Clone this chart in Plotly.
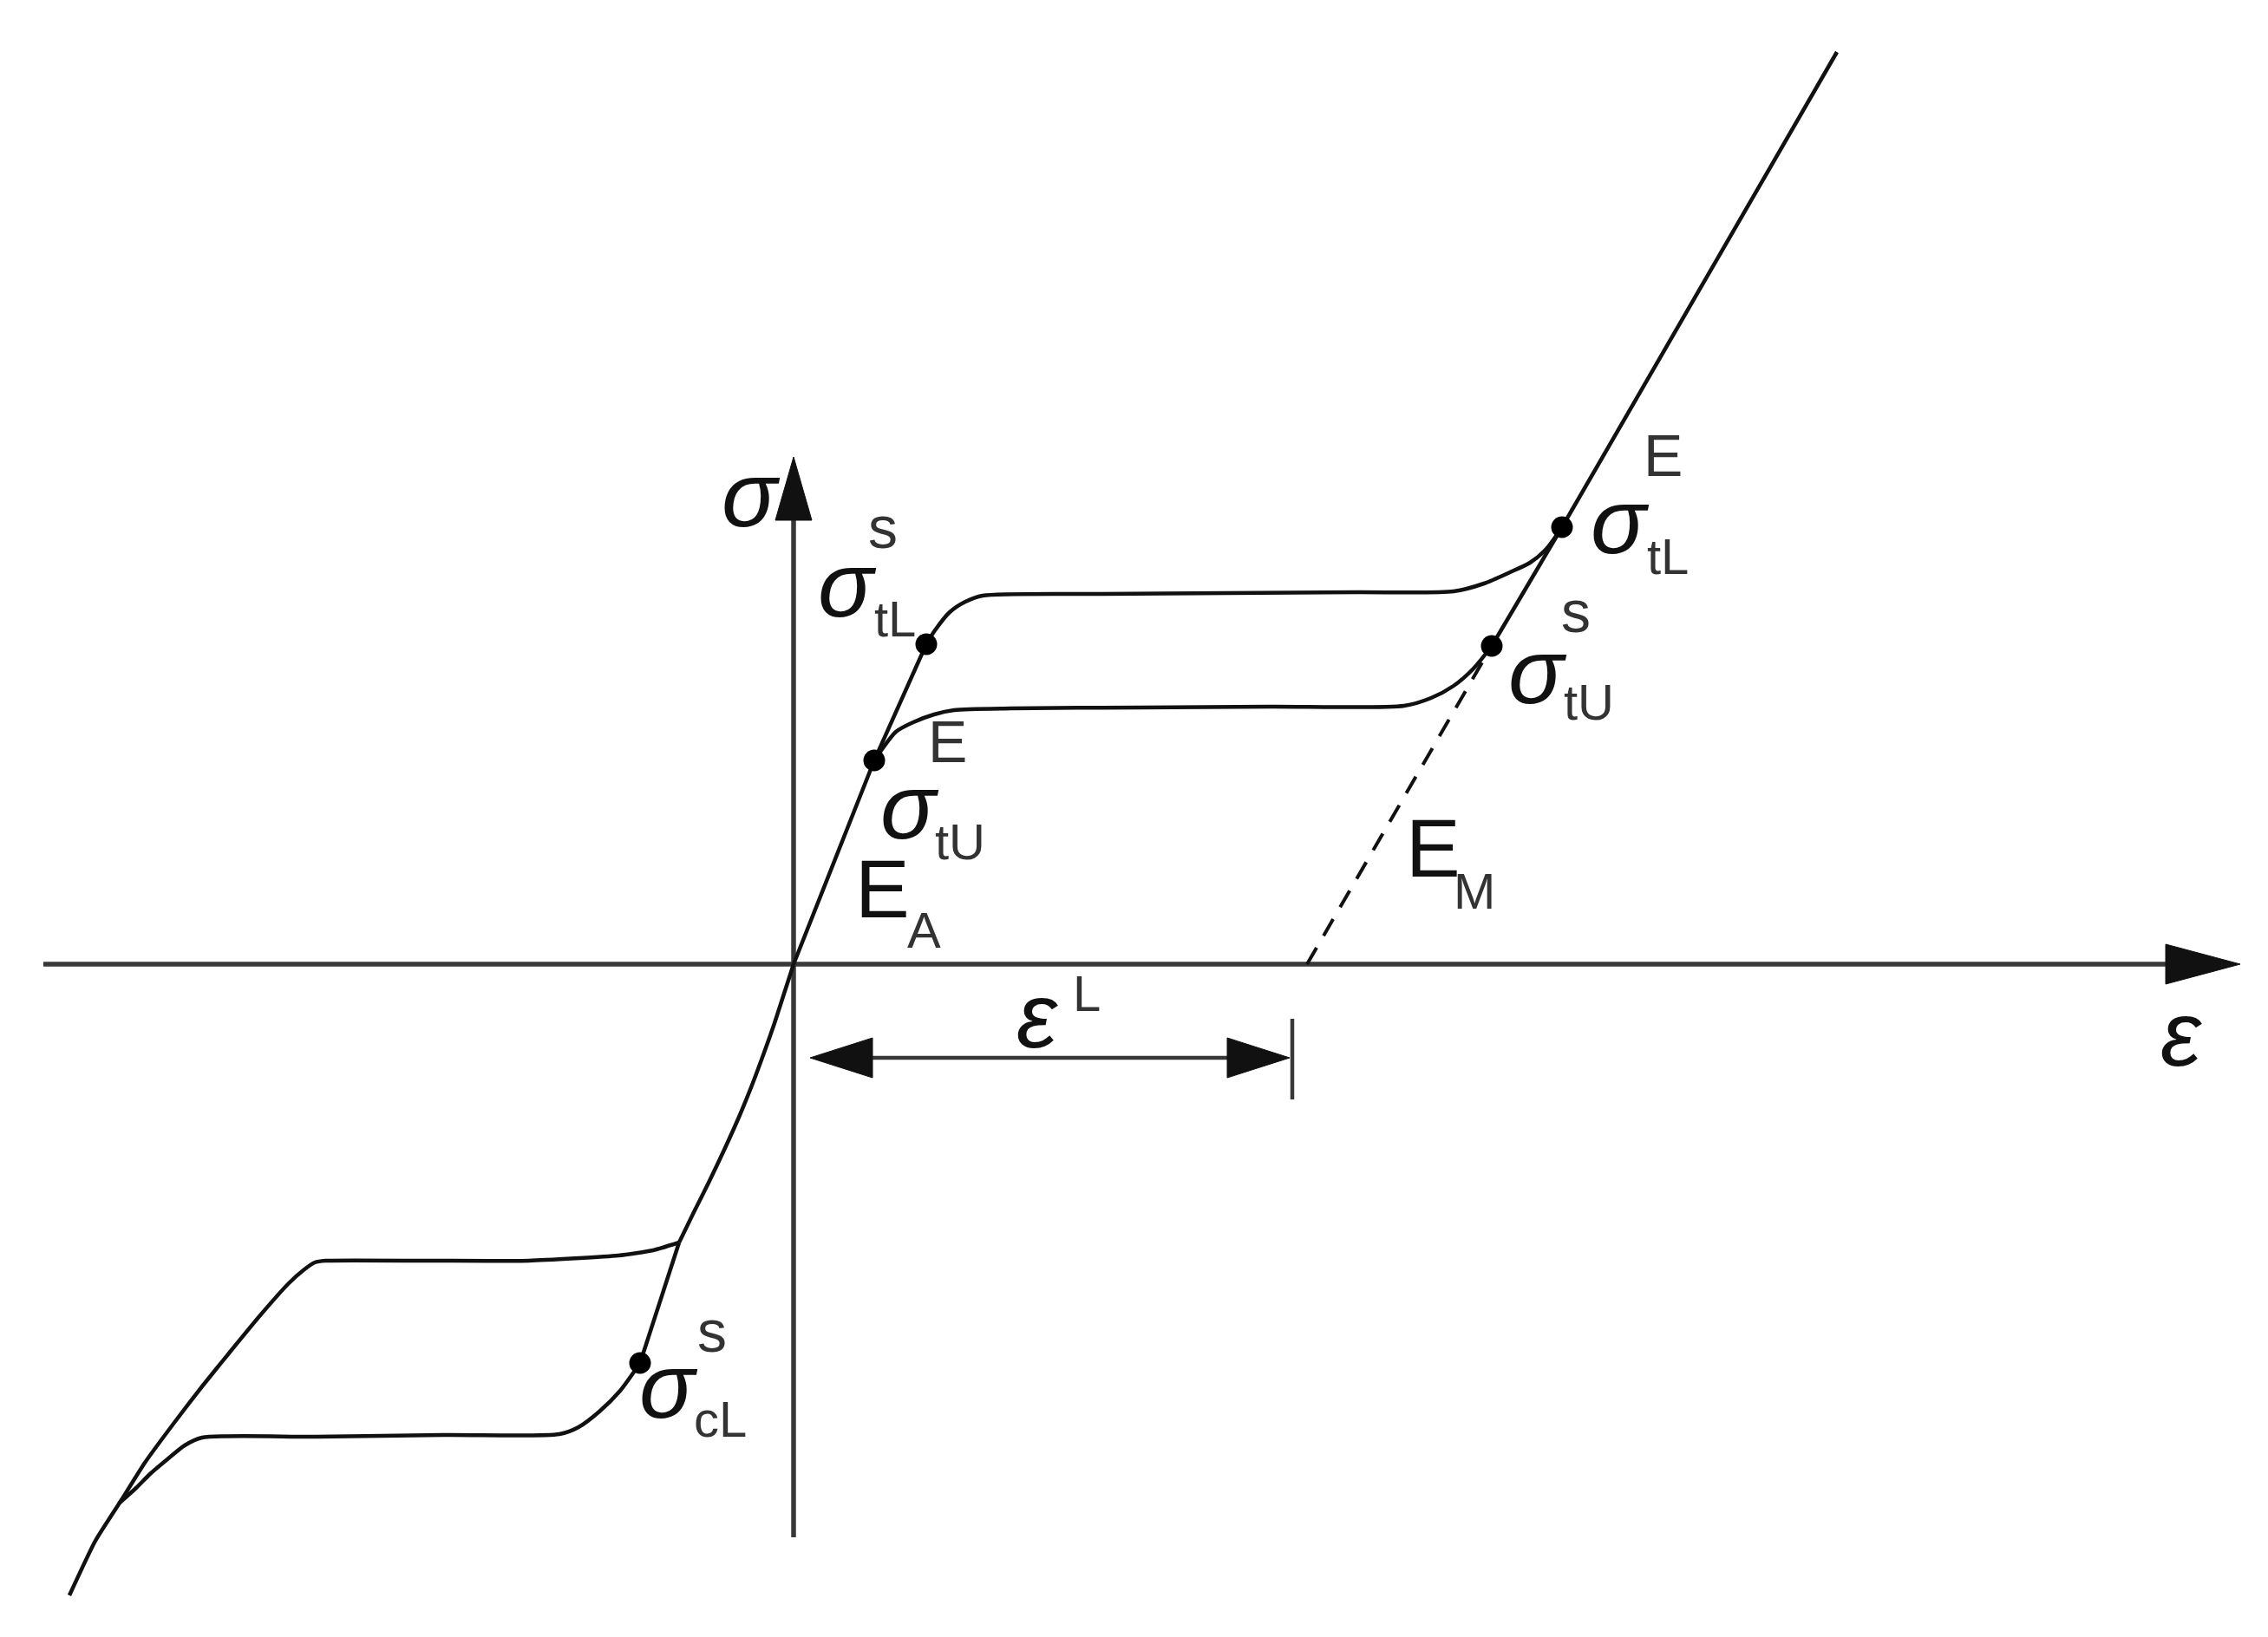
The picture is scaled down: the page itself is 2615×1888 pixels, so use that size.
import plotly.graph_objects as go

# ---------------- data (schematic strain ε / stress σ units) ----------------
# austenite elastic line E_A (tension side)
ea_eps = [0.0, 0.93, 1.53]
ea_sig = [0.0, 2.35, 3.69]

# forward transformation plateau in tension (upper)
fwd_t_eps = [1.53, 1.63, 1.80, 1.98, 2.18, 3.5, 5.0, 6.5, 7.61, 7.96, 8.26, 8.49, 8.68, 8.86]
fwd_t_sig = [3.69, 3.85, 4.06, 4.18, 4.25, 4.27, 4.28, 4.29, 4.30, 4.39, 4.52, 4.63, 4.79, 5.04]

# martensite elastic line (tension)
mart_t_eps = [8.05, 8.86, 12.03]
mart_t_sig = [3.67, 5.04, 10.52]

# reverse transformation plateau in tension (lower)
rev_t_eps = [8.05, 7.84, 7.61, 7.35, 7.04, 5.5, 4.0, 2.5, 1.85, 1.62, 1.38, 1.18, 0.93]
rev_t_sig = [3.67, 3.41, 3.21, 3.07, 2.98, 2.97, 2.96, 2.95, 2.93, 2.88, 2.79, 2.68, 2.35]

# E_M unloading line (dashed)
em_eps = [5.92, 8.05]
em_sig = [0.0, 3.67]

# compression: austenite branch
comp_el_eps = [0.0, -0.11, -0.22, -0.34, -0.47, -0.62, -0.79, -0.97, -1.15, -1.32]
comp_el_sig = [0.0, -0.34, -0.68, -1.02, -1.37, -1.74, -2.12, -2.50, -2.86, -3.21]
comp_el2_eps = [-1.32, -1.77]
comp_el2_sig = [-3.21, -4.60]

# compression forward plateau (lower)
fwd_c_eps = [-1.77, -2.00, -2.24, -2.48, -2.70, -4.0, -5.5, -6.82, -7.02, -7.22, -7.42, -7.58, -7.78]
fwd_c_sig = [-4.60, -4.92, -5.16, -5.34, -5.42, -5.43, -5.45, -5.46, -5.55, -5.71, -5.88, -6.04, -6.22]

# compression reverse plateau (upper) and martensite branch
rev_c_eps = [-1.32, -1.62, -2.02, -3.05, -4.2, -5.40, -5.52, -5.64, -5.82, -6.15, -6.48, -6.82, -7.15, -7.48, -7.75, -8.05, -8.35]
rev_c_sig = [-3.21, -3.30, -3.36, -3.42, -3.42, -3.42, -3.44, -3.52, -3.68, -4.05, -4.45, -4.87, -5.30, -5.75, -6.18, -6.65, -7.28]

# characteristic points (dots)
dot_eps = [1.53, 0.93, 8.86, 8.05, -1.77]
dot_sig = [3.69, 2.35, 5.04, 3.67, -4.60]

# axes extents
x_axis_min, x_axis_max = -8.65, 16.68
y_axis_min, y_axis_max = -6.61, 5.85

# eps^L dimension
epsL_start, epsL_end, epsL_level = 0.19, 5.72, -1.08

# labels: text, eps, sig, kind
lbl_text = ["σ", "σ", "s", "tL", "E", "σ", "tU", "E", "A",
            "E", "σ", "tL", "s", "σ", "tU", "E", "M",
            "ε", "L", "ε", "s", "σ", "cL"]
lbl_eps = [-0.49, 0.62, 1.03, 1.17, 1.77, 1.34, 1.92, 1.02, 1.50,
           10.02, 9.53, 10.08, 9.02, 8.58, 9.17, 7.37, 7.85,
           2.81, 3.38, 16.00, -0.94, -1.44, -0.85]
lbl_sig = [5.42, 4.38, 5.04, 3.99, 2.57, 1.82, 1.42, 0.87, 0.40,
           5.87, 5.11, 4.71, 4.07, 3.38, 3.03, 1.34, 0.85,
           -0.59, -0.33, -0.80, -4.23, -4.86, -5.24]
lbl_kind = ["g", "g", "sup", "sub", "sup", "g", "sub", "big", "sub",
            "sup", "g", "sub", "sup", "g", "sub", "big", "sub",
            "g", "sub", "g", "sup", "g", "sub"]

# ---------------- styling ----------------
CURVE = "#111111"
AXIS = "#383838"
LW = 4.5
AW = 5.5

fig = go.Figure()

def add_line(xs, ys, shape="linear", dash="solid", color=CURVE, width=LW, smoothing=0.7):
    line = dict(color=color, width=width, shape=shape, dash=dash)
    if shape == "spline":
        line["smoothing"] = smoothing
    fig.add_trace(go.Scatter(x=xs, y=ys, mode="lines", line=line, hoverinfo="skip"))

def add_tri(xs, ys, color):
    fig.add_trace(go.Scatter(x=xs, y=ys, mode="lines", fill="toself", fillcolor=color,
                             line=dict(color=color, width=1), hoverinfo="skip"))

# axes
ah_len, ah_half = 0.86, 0.23      # x-axis arrowhead
av_len, av_half = 0.73, 0.21      # y-axis arrowhead
add_line([x_axis_min, x_axis_max - ah_len], [0, 0], color=AXIS, width=AW)
add_tri([x_axis_max - ah_len, x_axis_max, x_axis_max - ah_len, x_axis_max - ah_len],
        [ah_half, 0, -ah_half, ah_half], "#111111")
add_line([0, 0], [y_axis_min, y_axis_max - av_len], color=AXIS, width=AW)
add_tri([-av_half, 0, av_half, -av_half],
        [y_axis_max - av_len, y_axis_max, y_axis_max - av_len, y_axis_max - av_len], "#111111")

# curves
add_line(ea_eps, ea_sig)
add_line(fwd_t_eps, fwd_t_sig, shape="spline")
add_line(mart_t_eps, mart_t_sig)
add_line(rev_t_eps, rev_t_sig, shape="spline")
add_line(em_eps, em_sig, dash="22px,16px", width=4)
add_line(comp_el_eps, comp_el_sig, shape="spline")
add_line(comp_el2_eps, comp_el2_sig)
add_line(fwd_c_eps, fwd_c_sig, shape="spline")
add_line(rev_c_eps, rev_c_sig, shape="spline", smoothing=0.5)

# eps^L dimension arrow
d_len, d_half = 0.72, 0.23
add_line([epsL_start + d_len, epsL_end - d_len], [epsL_level, epsL_level], color=AXIS, width=4.5)
add_tri([epsL_start, epsL_start + d_len, epsL_start + d_len, epsL_start],
        [epsL_level, epsL_level + d_half, epsL_level - d_half, epsL_level], "#111111")
add_tri([epsL_end, epsL_end - d_len, epsL_end - d_len, epsL_end],
        [epsL_level, epsL_level + d_half, epsL_level - d_half, epsL_level], "#111111")
add_line([epsL_end + 0.03, epsL_end + 0.03], [epsL_level + 0.45, epsL_level - 0.48], color=AXIS, width=4.5)

# dots
fig.add_trace(go.Scatter(x=dot_eps, y=dot_sig, mode="markers",
                         marker=dict(color="#000000", size=25), hoverinfo="skip"))

# labels
sizes = {"g": 106, "big": 94, "sup": 68, "sub": 58}
for t, ex, sy, k in zip(lbl_text, lbl_eps, lbl_sig, lbl_kind):
    greek = t in ("σ", "ε")
    fig.add_annotation(x=ex, y=sy, xref="x", yref="y", text=(f"<i>{t}</i>" if greek else t),
                       showarrow=False, xanchor="center", yanchor="middle",
                       font=dict(family="Liberation Sans", size=sizes[k],
                                 color="#111111" if k in ("g", "big") else "#333333"))

fig.update_layout(
    width=2615, height=1888,
    margin=dict(l=0, r=0, t=0, b=0),
    paper_bgcolor="white", plot_bgcolor="white",
    showlegend=False, hovermode=False,
    xaxis=dict(visible=False, range=[-9.15, 17.00], fixedrange=True),
    yaxis=dict(visible=False, range=[-7.76, 11.12], fixedrange=True),
)

fig.write_html("out.html", post_script="document.body.style.margin='0';document.body.style.overflow='hidden';",
               config={"displayModeBar": False})
